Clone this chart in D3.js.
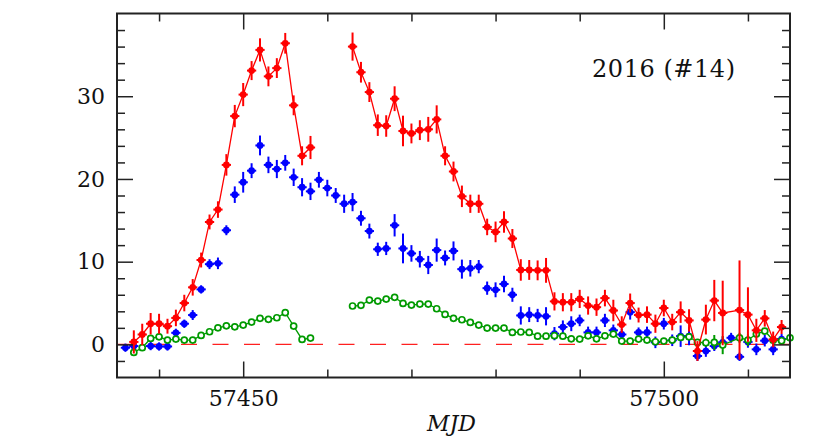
<!DOCTYPE html>
<html><head><meta charset="utf-8">
<script src="https://cdn.jsdelivr.net/npm/d3@7"></script>
<style>body{margin:0;background:#fff}svg{display:block}</style>
</head><body>
<svg id="c" width="814" height="446"></svg>
<script>
// ---- data ----
const redMJD = [57437,57438,57439,57440,57441,57442,57443,57444,57445,57446,57447,57448,57449,57450,57451,57452,57453,57454,57455,57456,57457,57458,
 57463,57464,57465,57466,57467,57468,57469,57470,57471,57472,57473,57474,57475,57476,57477,57478,57479,57480,57481,57482,57483,57484,57485,57486,57487,57488,57489,57490,
 57491,57492,57493,57494,57495,57496,57497,57498,57499,57500,57501,57502,57503,57504,57505,57506,57507,57509,57510,57511,57512,57513,57514];
const redVal = [0.3,1.2,2.5,2.5,2.2,3.2,5.0,6.9,10.2,14.8,16.3,21.7,27.6,30.2,33.1,35.6,32.4,33.4,36.4,28.9,22.8,23.8,
 36.0,32.9,30.5,26.5,26.4,29.7,25.8,25.5,25.9,26.0,27.2,22.8,20.9,17.9,17.0,17.0,14.2,13.6,14.8,12.8,9.0,9.0,8.95,8.95,5.2,5.1,5.1,5.5,
 4.7,4.5,5.6,4.1,2.4,5.0,3.55,3.6,2.5,4.4,2.7,3.9,2.9,-0.8,3.0,5.3,3.8,4.15,3.6,1.7,3.15,0.6,2.1];
const redErr = [1.4,1.3,1.3,1.2,0.9,1.0,1.0,1.0,0.9,0.9,1.0,1.3,1.35,1.4,1.15,1.4,1.2,1.2,1.25,1.2,1.15,1.4,
 1.7,1.25,1.2,1.3,1.3,1.5,1.85,1.2,1.2,1.5,1.7,1.15,1.2,1.3,1.1,1.1,1.0,1.25,1.3,1.15,1.3,1.2,1.2,1.5,1.1,1.1,1.1,1.1,
 1.1,1.05,1.0,1.3,1.0,1.15,0.9,1.0,1.1,1.0,1.0,1.3,1.35,1.2,1.8,2.5,3.9,6.0,3.3,1.4,1.0,0.95,0.85];

const blueMJD = [57436,57437,57439,57440,57441,57442,57443,57444,57445,57446,57447,57448,57449,57450,57451,57452,57453,57454,57455,57456,57457,57458,57459,57460,57461,57462,
 57463,57464,57465,57466,57467,57468,57469,57470,57471,57472,57473,57474,57475,57476,57477,57478,57479,57480,57481,57482,57483,57484,57485,57486,57487,57488,57489,57490,
 57491,57492,57493,57494,57495,57496,57497,57498,57499,57500,57501,57502,57503,57504,57505,57506,57507,57508,57509,57510,57511,57512,57513,57514];
const blueVal = [-0.4,-0.2,-0.2,-0.25,-0.25,1.4,2.5,3.55,6.65,9.7,9.8,13.8,18.1,19.6,21.0,24.05,21.7,21.2,21.95,20.2,19.0,18.5,19.9,18.9,18.0,17.0,
 17.2,15.25,13.7,11.5,11.6,14.4,11.6,11.0,10.3,9.6,11.4,10.45,11.3,9.1,9.2,9.4,6.8,6.6,7.3,6.0,3.5,3.6,3.5,3.4,1.3,2.1,2.5,2.9,
 1.45,1.45,2.9,1.7,1.2,3.9,1.45,1.45,0.25,2.5,0.5,1.0,1.0,-1.4,-0.8,-0.2,0.25,0.8,-1.5,0.3,-0.6,0.45,-0.6,0.65];
const blueErr = [0.5,0.5,0.5,0.5,0.5,0.5,0.5,0.6,0.5,0.6,0.7,0.6,1.0,1.25,0.9,1.2,1.0,1.1,0.95,1.05,1.1,1.05,0.95,1.0,0.9,1.1,
 1.1,0.9,0.9,0.8,0.8,1.35,1.8,1.0,1.0,1.1,1.4,0.9,1.15,1.15,1.0,0.8,0.8,0.9,1.0,0.85,1.1,0.9,0.8,1.1,0.8,0.8,0.9,0.7,
 0.7,0.7,0.8,0.7,0.7,0.9,0.6,0.7,0.7,0.7,0.7,1.3,1.1,0.6,0.7,0.6,0.7,0.6,0.5,0.7,0.7,0.7,0.7,0.6];

const greenMJD = [57437,57438,57439,57440,57441,57442,57443,57444,57445,57446,57447,57448,57449,57450,57451,57452,57453,57454,57455,57456,57457,57458,
 57463,57464,57465,57466,57467,57468,57469,57470,57471,57472,57473,57474,57475,57476,57477,57478,57479,57480,57481,57482,57483,57484,57485,57486,57487,57488,57489,57490,
 57491,57492,57493,57494,57495,57496,57497,57498,57499,57500,57501,57502,57503,57504,57505,57506,57507,57509,57510,57511,57512,57513,57514,57515];
const greenVal = [-0.97,-0.4,0.72,0.92,0.52,0.64,0.52,0.52,1.09,1.53,2.01,2.25,2.13,2.34,2.7,3.15,3.03,3.22,3.83,2.22,0.6,0.76,
 4.64,4.72,5.36,5.24,5.48,5.69,4.96,4.76,4.88,4.88,4.31,3.63,3.15,2.98,2.66,2.34,1.97,1.97,1.97,1.45,1.5,1.45,1.0,1.0,1.05,1.0,0.68,0.65,
 1.04,0.68,1.04,1.25,0.4,0.4,0.64,0.52,0.32,0.4,0.52,0.85,0.92,0.24,0.2,0.24,-0.08,0.8,0.52,1.25,1.61,0.5,0.44,0.8];
const greenErr = [0.3,0.25,0.2,0.2,0.2,0.2,0.2,0.2,0.2,0.2,0.2,0.2,0.2,0.2,0.2,0.2,0.2,0.2,0.2,0.2,0.2,0.2,
 0.2,0.2,0.2,0.2,0.2,0.2,0.2,0.2,0.2,0.2,0.2,0.2,0.2,0.2,0.2,0.2,0.2,0.2,0.2,0.2,0.2,0.2,0.2,0.2,0.2,0.2,0.2,0.2,
 0.2,0.2,0.2,0.2,0.2,0.2,0.3,0.3,0.3,0.3,0.3,0.4,0.4,0.4,0.5,0.9,1.1,0.6,0.7,0.3,0.3,0.3,0.3,0.3];

const xMajorTicks = [57450, 57500];
const yMajorTicks = [0, 10, 20, 30];
const titleText = "2016 (#14)";
const xLabel = "MJD";

// ---- drawing ----
const W = 814, H = 446;
const L = 117, R = 790, T = 13.5, B = 377.5;
const svg = d3.select("#c");
const x = d3.scaleLinear().domain([57435, 57515]).range([L, R]);
const y = d3.scaleLinear().domain([-4, 40]).range([B, T]);
const font = "'DejaVu Serif', serif";
const axisCol = "#222";

function pack(m, v, e) { return m.map((d, i) => ({x: d, y: v[i], e: e[i]})); }
const red = pack(redMJD, redVal, redErr);
const blue = pack(blueMJD, blueVal, blueErr);
const green = pack(greenMJD, greenVal, greenErr);

const plot = svg.append("g");
// zero dashed line
plot.append("line").attr("x1", x(57435)).attr("x2", x(57515)).attr("y1", y(0)).attr("y2", y(0))
  .attr("stroke", "#ff2020").attr("stroke-width", 1.3).attr("stroke-dasharray", "16,15.5")
  .attr("stroke-dashoffset", -1);

function segments(data, gap) {
  const segs = []; let cur = [];
  data.forEach((d, i) => {
    if (i > 0 && d.x - data[i - 1].x > gap) { segs.push(cur); cur = []; }
    cur.push(d);
  });
  segs.push(cur);
  return segs;
}
const line = d3.line().x(d => x(d.x)).y(d => y(d.y));

function drawSeries(data, col, filled, withLine, gap) {
  const g = plot.append("g");
  if (withLine) {
    segments(data, gap).forEach(s => {
      if (s.length > 1) g.append("path").attr("d", line(s)).attr("fill", "none")
        .attr("stroke", col).attr("stroke-width", 1.3);
    });
  }
  g.selectAll(".ev").data(data).join("line")
    .attr("x1", d => x(d.x)).attr("x2", d => x(d.x))
    .attr("y1", d => y(d.y - d.e)).attr("y2", d => y(d.y + d.e))
    .attr("stroke", col).attr("stroke-width", 2);
  if (filled) {
    g.selectAll(".eh").data(data).join("line")
      .attr("x1", d => x(d.x - 0.55)).attr("x2", d => x(d.x + 0.55))
      .attr("y1", d => y(d.y)).attr("y2", d => y(d.y))
      .attr("stroke", col).attr("stroke-width", 2);
    g.selectAll("circle").data(data).join("circle")
      .attr("cx", d => x(d.x)).attr("cy", d => y(d.y)).attr("r", 3.4).attr("fill", col);
  } else {
    g.selectAll("circle").data(data).join("circle")
      .attr("cx", d => x(d.x)).attr("cy", d => y(d.y)).attr("r", 3)
      .attr("fill", "#fff").attr("stroke", col).attr("stroke-width", 1.7);
  }
}
drawSeries(blue, "#0000ff", true, false, 2);
drawSeries(green, "#009a00", false, true, 2.5);
drawSeries(red, "#ff0000", true, true, 2.5);

// ---- axes (ticks inside on all sides) ----
const xMinor = d3.range(57440, 57515, 10).filter(v => !xMajorTicks.includes(v));
const yMinor = d3.range(-2, 40, 2).filter(v => !yMajorTicks.includes(v));
function styleAxis(g) { g.select(".domain").remove(); g.selectAll(".tick line").attr("stroke", axisCol).attr("stroke-width", 1.5); }

const ax = svg.append("g");
ax.append("g").attr("transform", `translate(0,${B})`).call(d3.axisBottom(x).tickValues(xMinor).tickSize(-8).tickFormat("")).call(styleAxis);
ax.append("g").attr("transform", `translate(0,${B})`).call(d3.axisBottom(x).tickValues(xMajorTicks).tickSize(-16).tickPadding(13).tickFormat(d3.format("d"))).call(styleAxis)
  .selectAll("text").attr("font-family", font).attr("font-size", 22).attr("fill", "#111").attr("dy", "0.71em");
ax.append("g").attr("transform", `translate(0,${T})`).call(d3.axisTop(x).tickValues(xMinor).tickSize(-8).tickFormat("")).call(styleAxis);
ax.append("g").attr("transform", `translate(0,${T})`).call(d3.axisTop(x).tickValues(xMajorTicks).tickSize(-16).tickFormat("")).call(styleAxis);
ax.append("g").attr("transform", `translate(${L},0)`).call(d3.axisLeft(y).tickValues(yMinor).tickSize(-8).tickFormat("")).call(styleAxis);
ax.append("g").attr("transform", `translate(${L},0)`).call(d3.axisLeft(y).tickValues(yMajorTicks).tickSize(-16).tickPadding(12).tickFormat(d3.format("d"))).call(styleAxis)
  .selectAll("text").attr("font-family", font).attr("font-size", 22).attr("fill", "#111");
ax.append("g").attr("transform", `translate(${R},0)`).call(d3.axisRight(y).tickValues(yMinor).tickSize(-8).tickFormat("")).call(styleAxis);
ax.append("g").attr("transform", `translate(${R},0)`).call(d3.axisRight(y).tickValues(yMajorTicks).tickSize(-16).tickFormat("")).call(styleAxis);

svg.append("rect").attr("x", L).attr("y", T).attr("width", R - L).attr("height", B - T)
  .attr("fill", "none").attr("stroke", axisCol).attr("stroke-width", 2);

// x label
svg.append("text").attr("x", (L + R) / 2 - 2).attr("y", 431).attr("text-anchor", "middle")
  .attr("font-family", font).attr("font-style", "italic").attr("font-size", 22).attr("fill", "#111").text(xLabel);
// title inside plot
svg.append("text").attr("x", 592).attr("y", 77).attr("font-family", font).attr("font-size", 24)
  .attr("fill", "#111").attr("textLength", 143).text(titleText);
</script>
</body></html>
